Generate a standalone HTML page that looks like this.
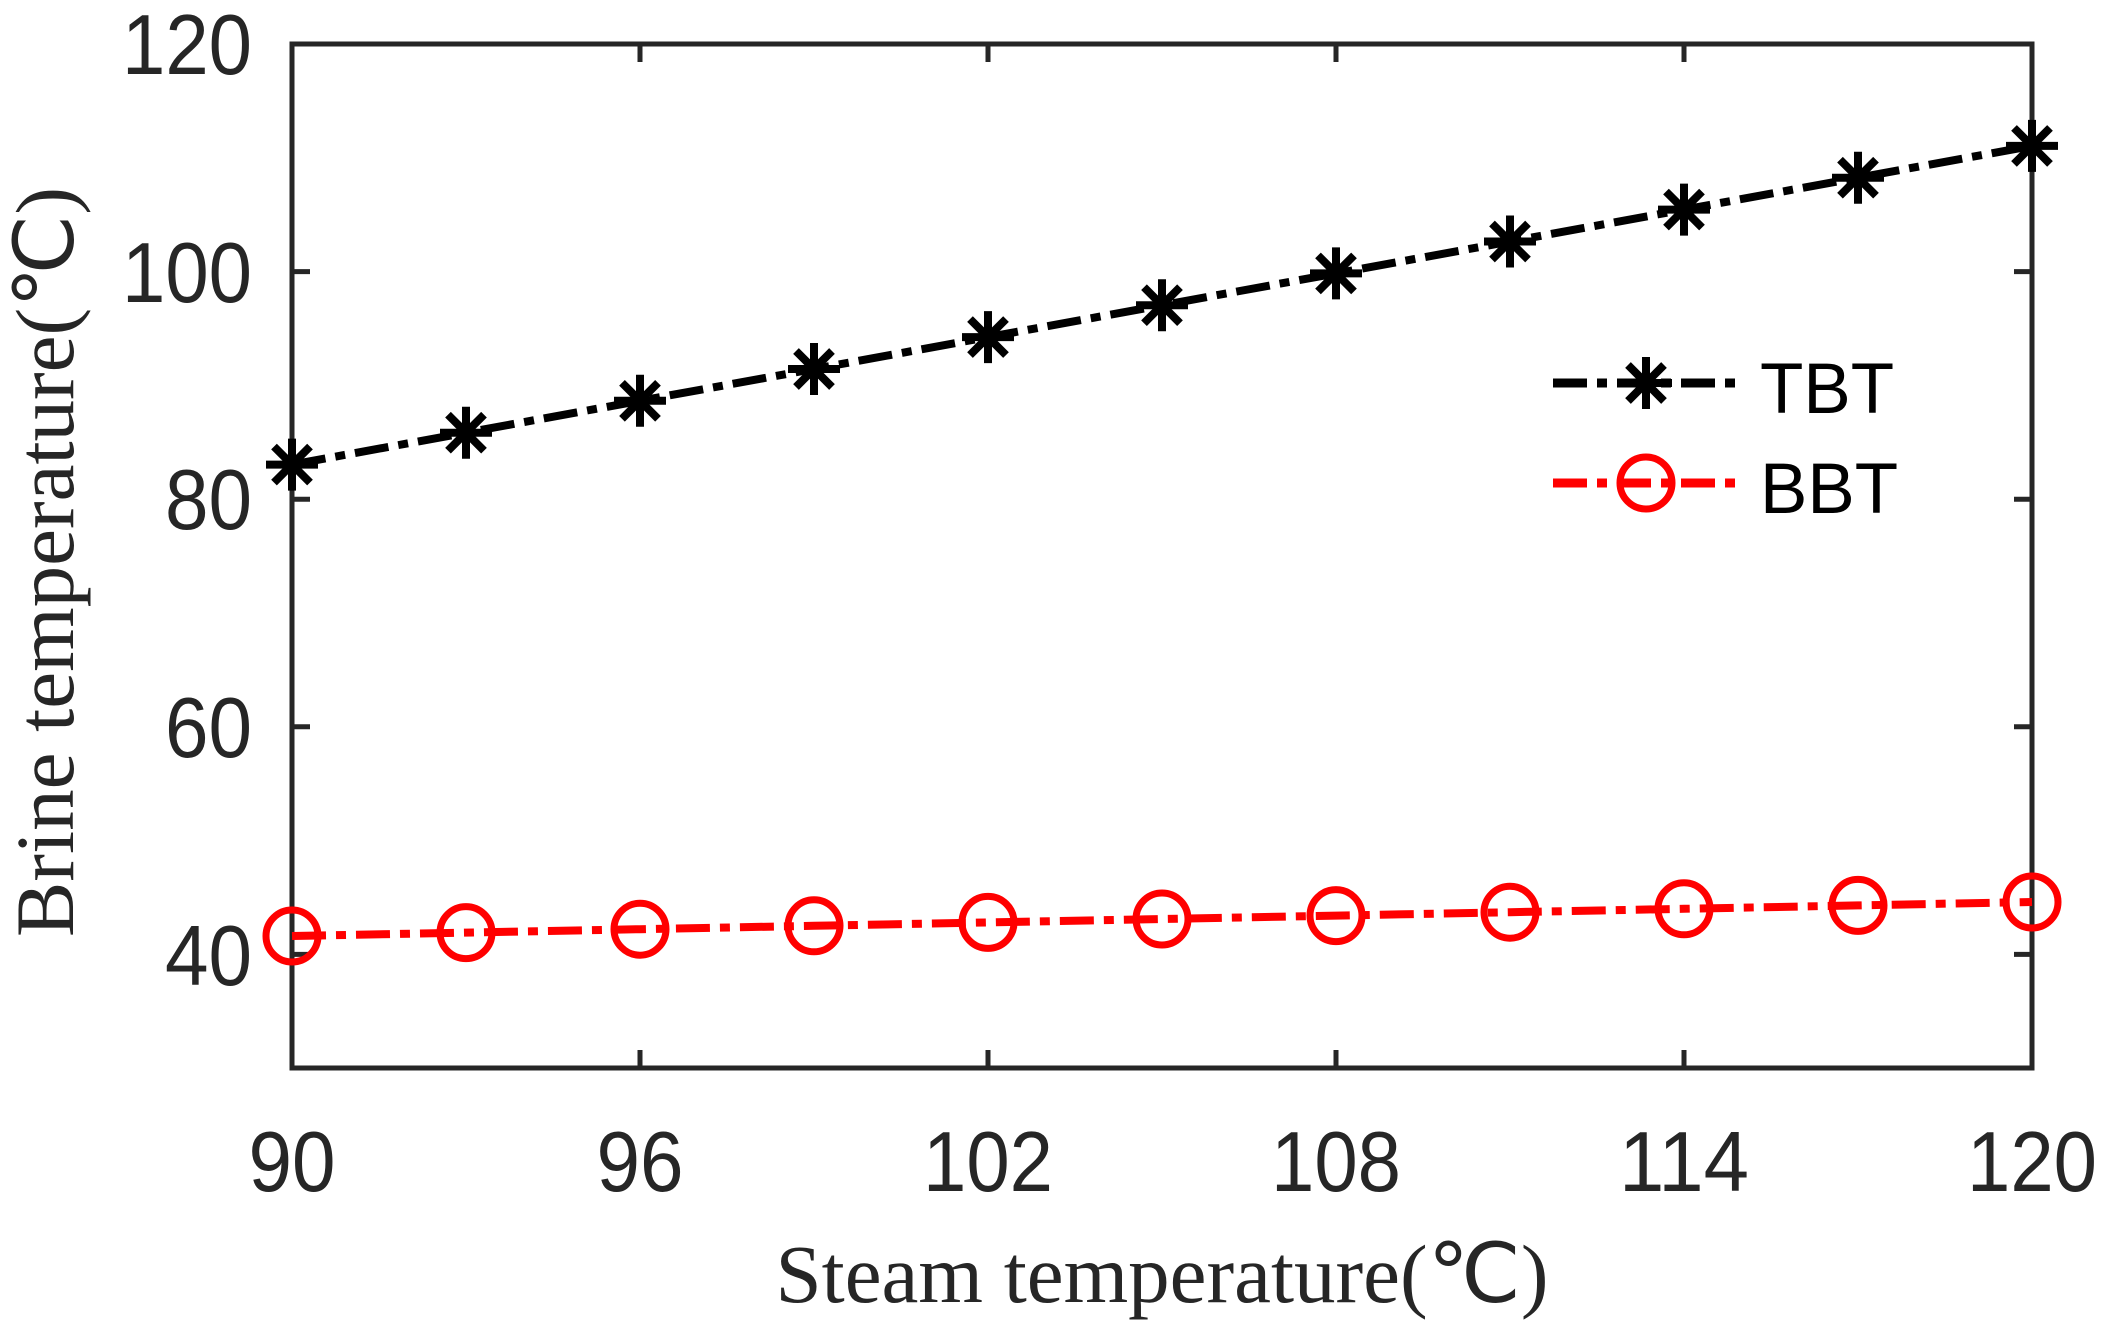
<!DOCTYPE html>
<html><head><style>body{margin:0;background:#fff}svg{display:block}</style></head><body>
<svg width="2106" height="1324" viewBox="0 0 2106 1324" xmlns="http://www.w3.org/2000/svg">
<defs>
<g id="star" stroke="#000" stroke-width="8" stroke-linecap="butt">
<line x1="0" y1="-26" x2="0" y2="26"/><line x1="-26" y1="0" x2="26" y2="0"/>
<line x1="-18" y1="-18" x2="18" y2="18"/><line x1="-18" y1="18" x2="18" y2="-18"/>
</g>
<circle id="circ" r="26" fill="none" stroke="#f00" stroke-width="7"/>
</defs>
<g stroke="#262626" stroke-width="5" fill="none">
<rect x="292" y="44" width="1740" height="1024"/>
<path d="M640 1068v-18M988 1068v-18M1336 1068v-18M1684 1068v-18M640 44v18M988 44v18M1336 44v18M1684 44v18"/>
<path d="M292 271.6h18M292 499.2h18M292 726.8h18M292 954.4h18M2032 271.6h-18M2032 499.2h-18M2032 726.8h-18M2032 954.4h-18"/>
</g>
<g font-family="Liberation Sans, Arial, sans-serif" font-size="85" fill="#262626">
<g text-anchor="end">
<text x="252" y="74" textLength="130" lengthAdjust="spacingAndGlyphs">120</text><text x="252" y="302" textLength="130" lengthAdjust="spacingAndGlyphs">100</text><text x="252" y="529" textLength="87" lengthAdjust="spacingAndGlyphs">80</text><text x="252" y="757" textLength="87" lengthAdjust="spacingAndGlyphs">60</text><text x="252" y="985" textLength="87" lengthAdjust="spacingAndGlyphs">40</text>
</g>
<g text-anchor="middle">
<text x="292" y="1191" textLength="87" lengthAdjust="spacingAndGlyphs">90</text><text x="640" y="1191" textLength="87" lengthAdjust="spacingAndGlyphs">96</text><text x="988" y="1191" textLength="130" lengthAdjust="spacingAndGlyphs">102</text><text x="1336" y="1191" textLength="130" lengthAdjust="spacingAndGlyphs">108</text><text x="1684" y="1191" textLength="130" lengthAdjust="spacingAndGlyphs">114</text><text x="2032" y="1191" textLength="130" lengthAdjust="spacingAndGlyphs">120</text>
</g>
</g>
<g font-family="Liberation Serif, Times New Roman, serif" font-size="83" fill="#262626" text-anchor="middle">
<text x="1162" y="1302">Steam temperature(℃)</text>
<text transform="translate(73,562) rotate(-90)">Brine temperature(℃)</text>
</g>
<polyline fill="none" stroke="#000" stroke-width="8" stroke-dasharray="34,10,10,10" points="292,464.6 466,432.7 640,400.8 814,369 988,337.1 1162,305.2 1336,273.4 1510,241.5 1684,209.6 1858,177.7 2032,145.9"/>
<g>
<use href="#star" x="292" y="464.6"/><use href="#star" x="466" y="432.7"/><use href="#star" x="640" y="400.8"/><use href="#star" x="814" y="369"/><use href="#star" x="988" y="337.1"/><use href="#star" x="1162" y="305.2"/><use href="#star" x="1336" y="273.4"/><use href="#star" x="1510" y="241.5"/><use href="#star" x="1684" y="209.6"/><use href="#star" x="1858" y="177.7"/><use href="#star" x="2032" y="145.9"/>
</g>
<polyline fill="none" stroke="#f00" stroke-width="8" stroke-dasharray="34,10,10,10" points="292,936 466,932.6 640,929.2 814,925.8 988,922.4 1162,919 1336,915.6 1510,912.2 1684,908.8 1858,905.4 2032,902"/>
<g>
<use href="#circ" x="292" y="936"/><use href="#circ" x="466" y="932.6"/><use href="#circ" x="640" y="929.2"/><use href="#circ" x="814" y="925.8"/><use href="#circ" x="988" y="922.4"/><use href="#circ" x="1162" y="919"/><use href="#circ" x="1336" y="915.6"/><use href="#circ" x="1510" y="912.2"/><use href="#circ" x="1684" y="908.8"/><use href="#circ" x="1858" y="905.4"/><use href="#circ" x="2032" y="902"/>
</g>
<line x1="1553" y1="383" x2="1740" y2="383" stroke="#000" stroke-width="9" stroke-dasharray="34,10,10,10"/>
<use href="#star" x="1646" y="383"/>
<line x1="1553" y1="483" x2="1740" y2="483" stroke="#f00" stroke-width="9" stroke-dasharray="34,10,10,10"/>
<use href="#circ" x="1646" y="483"/>
<g font-family="Liberation Sans, Arial, sans-serif" font-size="71" fill="#000">
<text x="1760" y="413">TBT</text><text x="1760" y="513">BBT</text>
</g>
</svg>
</body></html>
